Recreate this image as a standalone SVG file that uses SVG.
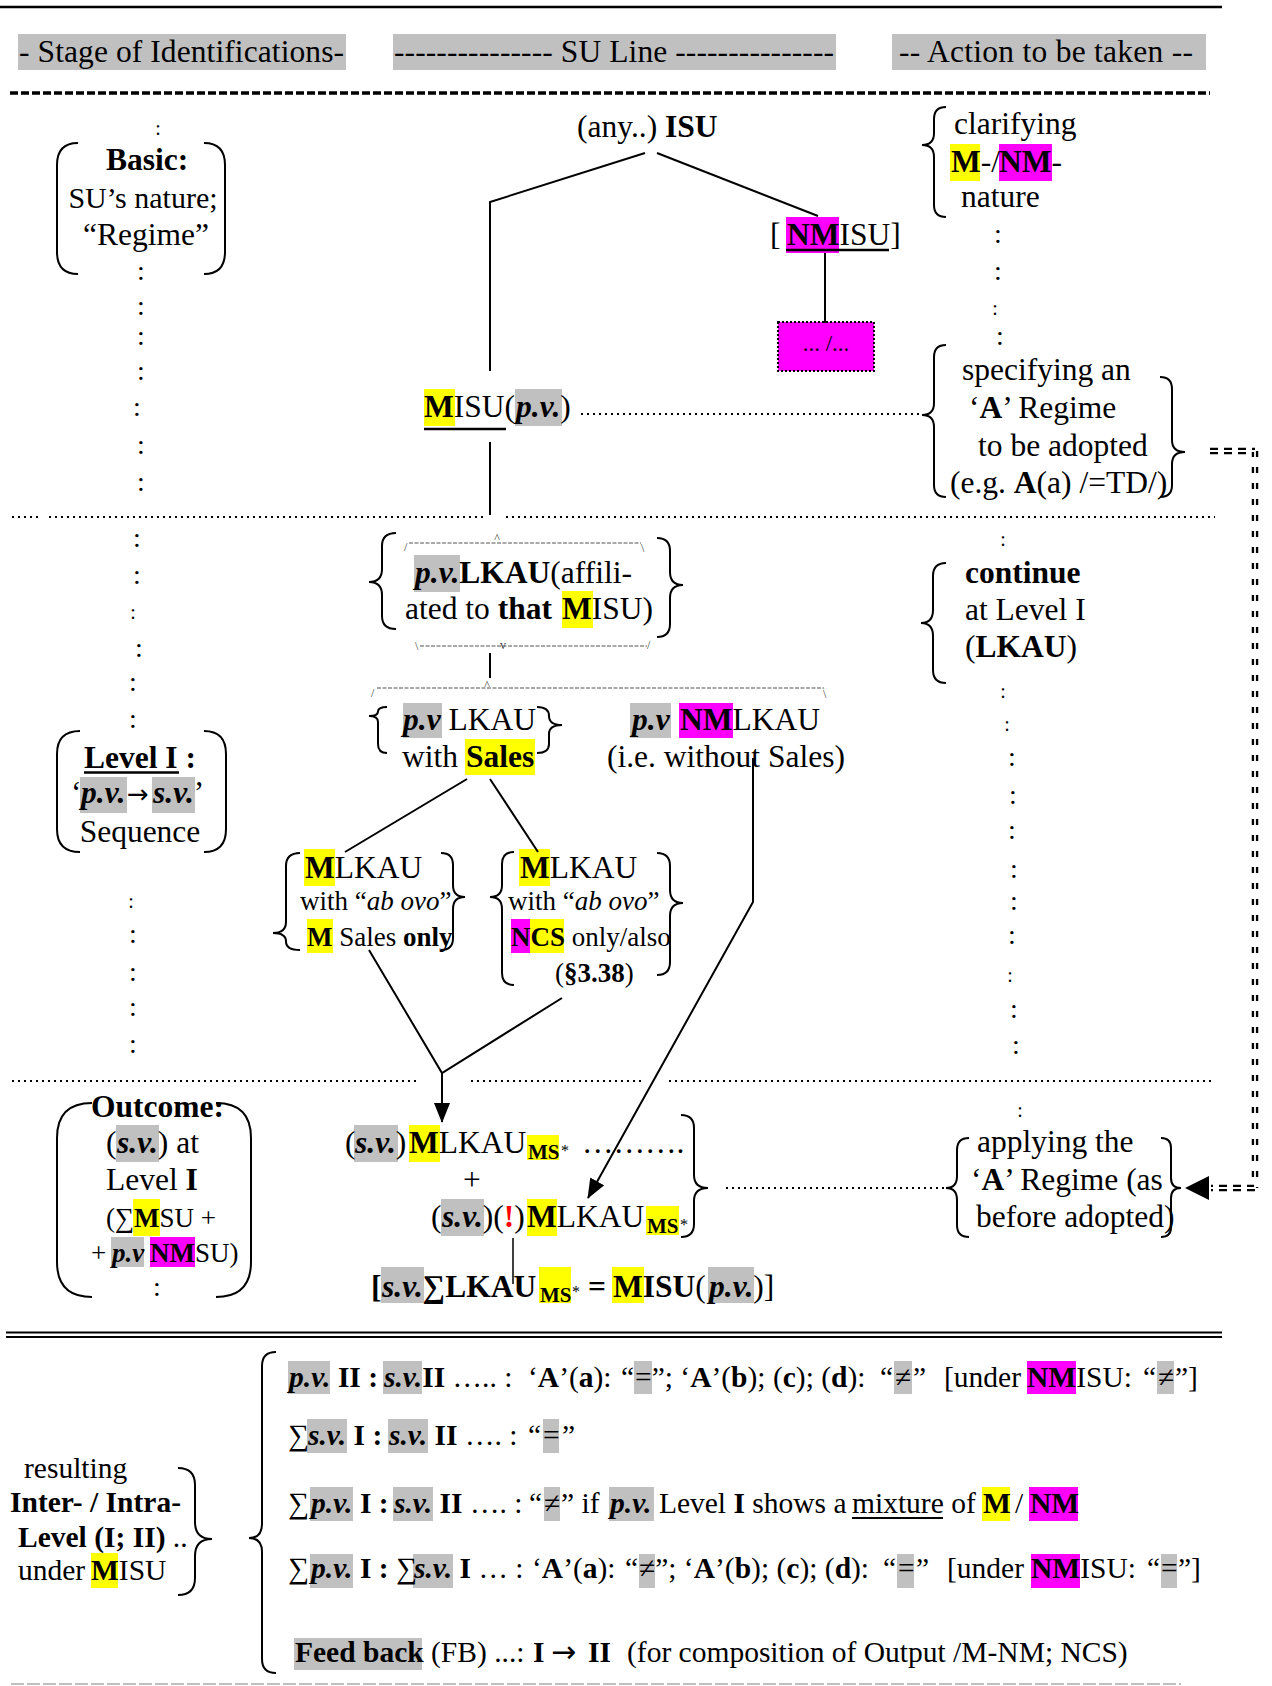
<svg xmlns="http://www.w3.org/2000/svg" width="1272" height="1686" viewBox="0 0 1272 1686">
<style>
text{font-family:"Liberation Serif","Times New Roman",serif;font-size:31.5px;fill:#000}
.s27{font-size:27px}
.s29{font-size:29.5px}
.b{font-weight:bold}
.i{font-style:italic}
.bi{font-weight:bold;font-style:italic}
.c{font-size:28px;text-anchor:middle}
.cs{font-size:20px;text-anchor:middle}
.hy{fill:#ffff00}
.hm{fill:#ff00ff}
.hg{fill:#c0c0c0}
.ln{fill:none;stroke:#000;stroke-width:2}
.br{fill:none;stroke:#000;stroke-width:2}
.dot{fill:none;stroke:#000;stroke-width:2;stroke-dasharray:2 4}
.fr{fill:none;stroke:#555;stroke-width:1;stroke-dasharray:4 1.5}
.sm{font-size:12px;fill:#444}
.red{fill:#ff0000}
.ul{stroke:#000;stroke-width:2.5}
.arr{font-family:"DejaVu Sans",sans-serif;font-size:26px;font-weight:normal;font-style:normal}
</style>
<defs>
<marker id="ah" viewBox="0 0 20 16" refX="19" refY="8" markerWidth="20" markerHeight="16" markerUnits="userSpaceOnUse" orient="auto"><path d="M0,0 L20,8 L0,16 z" fill="#000"/></marker>
</defs>

<g id="header">
<line x1="0" y1="7" x2="1222" y2="7" stroke="#000" stroke-width="2.5"/>
<rect class="hg" x="18" y="34" width="328" height="36"/>
<text x="19" y="62" textLength="325">- Stage of Identifications-</text>
<rect class="hg" x="393" y="34" width="443" height="36"/>
<text x="394" y="62" textLength="440">--------------- SU Line ---------------</text>
<rect class="hg" x="892" y="34" width="314" height="36"/>
<text x="899" y="62" textLength="294">-- Action to be taken --</text>
<line x1="10" y1="93" x2="1210" y2="93" stroke="#000" stroke-width="3.5" stroke-dasharray="8 3"/>
</g>

<g id="separators">
<path class="dot" d="M12,517 H41 M49,517 H484 M506,517 H1215"/>
<path class="dot" d="M12,1081 H418 M471,1081 H642 M669,1081 H1212"/>
<line x1="6" y1="1332.5" x2="1222" y2="1332.5" stroke="#000" stroke-width="2"/>
<line x1="6" y1="1337" x2="1222" y2="1337" stroke="#000" stroke-width="2"/>
<line x1="11" y1="1684" x2="1181" y2="1684" stroke="#aaa" stroke-width="1.5" stroke-dasharray="13 3"/>
</g>

<g id="dots-left">
<text class="cs" x="158" y="135">:</text>
<text class="c" x="141" y="280">:</text>
<text class="c" x="141" y="315">:</text>
<text class="c" x="141" y="345">:</text>
<text class="c" x="141" y="380">:</text>
<text class="c" x="137" y="416">:</text>
<text class="c" x="141" y="454">:</text>
<text class="c" x="141" y="491">:</text>
<text class="c" x="137" y="547">:</text>
<text class="c" x="137" y="584">:</text>
<text class="cs" x="133" y="619">:</text>
<text class="c" x="139" y="657">:</text>
<text class="c" x="133" y="691">:</text>
<text class="c" x="133" y="728">:</text>
<text class="cs" x="131" y="908">:</text>
<text class="c" x="133" y="943">:</text>
<text class="c" x="133" y="981">:</text>
<text class="c" x="133" y="1016">:</text>
<text class="c" x="133" y="1053">:</text>
</g>

<g id="dots-right">
<text class="c" x="998" y="243">:</text>
<text class="c" x="998" y="280">:</text>
<text class="cs" x="995" y="315">:</text>
<text class="c" x="1000" y="345">:</text>
<text class="cs" x="1003" y="546">:</text>
<text class="cs" x="1003" y="698">:</text>
<text class="cs" x="1007" y="731">:</text>
<text class="c" x="1012" y="766">:</text>
<text class="c" x="1013" y="804">:</text>
<text class="c" x="1012" y="839">:</text>
<text class="c" x="1014" y="878">:</text>
<text class="c" x="1014" y="910">:</text>
<text class="c" x="1012" y="944">:</text>
<text class="cs" x="1010" y="982">:</text>
<text class="c" x="1014" y="1018">:</text>
<text class="c" x="1016" y="1054">:</text>
<text class="cs" x="1020" y="1117">:</text>
</g>

<g id="stage-basic">
<path class="br" d="M78,143 Q57,143 57,165 L57,252 Q57,274 78,274"/>
<path class="br" d="M204,143 Q225,143 225,165 L225,252 Q225,274 204,274"/>
<text class="b" x="147" y="170" text-anchor="middle">Basic:</text>
<text x="143" y="208" text-anchor="middle" style="font-size:30px">SU’s nature;</text>
<text x="146" y="245" text-anchor="middle">“Regime”</text>
</g>

<g id="stage-level1">
<path class="br" d="M80,731 Q57,731 57,754 L57,829 Q57,852 80,852"/>
<path class="br" d="M204,731 Q226,731 226,754 L226,829 Q226,852 204,852"/>
<text class="b" x="84" y="768">Level I :</text>
<line class="ul" x1="84" y1="772.5" x2="179" y2="772.5"/>
<rect class="hg" x="80" y="777" width="47" height="36"/>
<rect class="hg" x="152" y="777" width="43" height="36"/>
<text x="71" y="803">‘<tspan class="bi" x="81">p.v.</tspan><tspan class="arr" x="127">→</tspan><tspan class="bi" x="153">s.v.</tspan>’</text>
<text x="140" y="842" text-anchor="middle">Sequence</text>
</g>

<g id="stage-outcome">
<path class="br" d="M92,1103 Q57,1103 57,1138 L57,1262 Q57,1297 92,1297"/>
<path class="br" d="M216,1103 Q251,1103 251,1138 L251,1262 Q251,1297 216,1297"/>
<text class="b" x="91" y="1117">Outcome:</text>
<rect class="hg" x="116" y="1125" width="43" height="37"/>
<text x="106" y="1153">(<tspan class="bi" x="117">s.v.</tspan>) at</text>
<text x="106" y="1190">Level <tspan class="b">I</tspan></text>
<rect class="hy" x="133" y="1199" width="27" height="37"/>
<text class="s27" x="106" y="1227">(∑<tspan class="b" x="134">M</tspan>SU +</text>
<rect class="hg" x="111" y="1237" width="33" height="30"/>
<rect class="hm" x="150" y="1237" width="45" height="30"/>
<text class="s27" x="91" y="1262">+ <tspan class="bi" x="112">p.v</tspan> <tspan class="b" x="150">NM</tspan>SU)</text>
<text class="c" x="157" y="1296">:</text>
</g>

<g id="isu">
<text x="577" y="137">(any..) <tspan class="b">ISU</tspan></text>
</g>

<g id="nmisu">
<rect class="hm" x="786" y="217" width="53" height="36"/>
<text x="770" y="245">[ <tspan class="b" x="787">NM</tspan>ISU]</text>
<line class="ul" x1="786" y1="250" x2="889" y2="250"/>
</g>

<g id="nm-sub">
<rect x="778" y="322" width="96" height="49" fill="#ff00ff" stroke="#000" stroke-width="2" stroke-dasharray="2 2"/>
<text x="826" y="351" text-anchor="middle" style="font-size:23px">... /...</text>
</g>

<g id="misu">
<rect class="hy" x="424" y="389" width="31" height="37"/>
<rect class="hg" x="515" y="389" width="47" height="37"/>
<text x="424" y="417"><tspan class="b">M</tspan>ISU(<tspan class="bi" x="516">p.v.</tspan>)</text>
<line class="ul" x1="424" y1="429" x2="506" y2="429"/>
</g>

<g id="act-clarify">
<path class="br" d="M946,107 Q934,107 934,119 L934,133 Q934,145 922,145 Q934,145 934,157 L934,205 Q934,217 946,217"/>
<text x="954" y="134">clarifying</text>
<rect class="hy" x="950" y="144" width="30" height="37"/>
<rect class="hm" x="999" y="144" width="53" height="37"/>
<text x="951" y="172"><tspan class="b">M</tspan>-/<tspan class="b" x="999">NM</tspan>-</text>
<text x="961" y="207">nature</text>
</g>

<g id="act-specify">
<path class="br" d="M946,345 Q934,345 934,357 L934,403 Q934,415 922,415 Q934,415 934,427 L934,485 Q934,497 946,497"/>
<path class="br" d="M1160,377 Q1172,377 1172,389 L1172,440 Q1172,452 1185,452 Q1172,452 1172,464 L1172,485 Q1172,497 1160,497"/>
<text x="962" y="380">specifying an</text>
<text x="969" y="418">‘<tspan class="b">A</tspan>’ Regime</text>
<text x="978" y="456">to be adopted</text>
<text x="950" y="493">(e.g. <tspan class="b">A</tspan>(a) /=TD/)</text>
</g>

<g id="lkau-affil">
<path class="fr" d="M409,543 H641"/>
<text class="sm" x="404" y="551">/</text>
<text class="sm" x="497" y="542" text-anchor="middle">^</text>
<text class="sm" x="641" y="552">\</text>
<path class="br" d="M396,533 Q382,533 382,546 L382,569 Q382,582 369,582 Q382,582 382,595 L382,616 Q382,629 396,629"/>
<path class="br" d="M657,538 Q670,538 670,551 L670,572 Q670,585 683,585 Q670,585 670,598 L670,624 Q670,637 657,637"/>
<rect class="hg" x="414" y="555" width="46" height="37"/>
<text x="415" y="583"><tspan class="bi">p.v.</tspan><tspan class="b">LKAU</tspan>(affili-</text>
<rect class="hy" x="562" y="591" width="31" height="37"/>
<text x="405" y="619">ated to <tspan class="b">that </tspan><tspan class="b" x="562">M</tspan>ISU)</text>
<path class="fr" d="M420,646 H647"/>
<text class="sm" x="415" y="650">\</text>
<text class="sm" x="503" y="649" text-anchor="middle">v</text>
<text class="sm" x="647" y="649">/</text>
</g>

<g id="lkau-split">
<path class="fr" d="M377,688 H824"/>
<text class="sm" x="371" y="697">/</text>
<text class="sm" x="487" y="689" text-anchor="middle">^</text>
<text class="sm" x="823" y="698">\</text>
</g>

<g id="lkau-sales">
<path class="br" d="M387,707 Q378,707 378,711.5 Q378,716 369,716 Q378,716 378,722 L378,744 Q378,753 387,753"/>
<path class="br" d="M537,707 Q549,707 549,716 Q549,725 562,725 Q549,725 549,734 L549,744 Q549,753 537,753"/>
<rect class="hg" x="403" y="703" width="39" height="35"/>
<text x="403" y="730"><tspan class="bi">p.v</tspan> LKAU</text>
<rect class="hy" x="465" y="739" width="70" height="36"/>
<text x="402" y="767">with <tspan class="b" x="466">Sales</tspan></text>
</g>

<g id="lkau-nm">
<rect class="hg" x="630" y="703" width="41" height="35"/>
<rect class="hm" x="679" y="703" width="54" height="35"/>
<text x="632" y="730"><tspan class="bi">p.v</tspan> <tspan class="b" x="680">NM</tspan>LKAU</text>
<text x="607" y="767">(i.e. without Sales)</text>
</g>

<g id="mlkau-m">
<path class="br" d="M300,853 Q286,853 286,866 L286,922 Q286,933 273,933 Q286,933 286,941.5 Q286,950 300,950"/>
<path class="br" d="M441,853 Q453,853 453,865 L453,885 Q453,897 465,897 Q453,897 453,909 L453,938 Q453,950 441,950"/>
<rect class="hy" x="304" y="849" width="31" height="37"/>
<text x="305" y="878"><tspan class="b">M</tspan>LKAU</text>
<text class="s27" x="300" y="910">with “<tspan class="i">ab ovo</tspan>”</text>
<rect class="hy" x="307" y="919" width="26" height="34"/>
<text class="s27" x="307" y="946"><tspan class="b">M</tspan> Sales <tspan class="b">only</tspan></text>
</g>

<g id="mlkau-ncs">
<path class="br" d="M514,852 Q502,852 502,864 L502,885 Q502,897 490,897 Q502,897 502,909 L502,973 Q502,985 514,985"/>
<path class="br" d="M657,853 Q670,853 670,866 L670,890 Q670,903 683,903 Q670,903 670,916 L670,962 Q670,975 657,975"/>
<rect class="hy" x="519" y="849" width="31" height="37"/>
<text x="520" y="878"><tspan class="b">M</tspan>LKAU</text>
<text class="s27" x="508" y="910">with “<tspan class="i">ab ovo</tspan>”</text>
<rect class="hm" x="511" y="919" width="19" height="34"/>
<rect class="hy" x="530" y="919" width="34" height="34"/>
<text class="s27" x="511" y="946"><tspan class="b">NCS</tspan> only/also</text>
<text class="s27" x="555" y="982">(<tspan class="b">§3.38</tspan>)</text>
</g>

<g id="act-continue">
<path class="br" d="M946,563 Q933,563 933,576 L933,610 Q933,623 921,623 Q933,623 933,636 L933,670 Q933,683 946,683"/>
<text class="b" x="965" y="583">continue</text>
<text x="965" y="620">at Level I</text>
<text x="965" y="657">(<tspan class="b">LKAU</tspan>)</text>
</g>

<g id="out-ms">
<rect class="hg" x="354" y="1125" width="44" height="37"/>
<rect class="hy" x="409" y="1125" width="31" height="37"/>
<rect class="hy" x="527" y="1135" width="32" height="25"/>
<text x="345" y="1153">(<tspan class="bi" x="355">s.v.</tspan>)<tspan class="b" x="409">M</tspan>LKAU<tspan class="b" x="528" y="1159" style="font-size:21px">MS</tspan><tspan x="561" y="1156" style="font-size:16px">*</tspan><tspan x="582" y="1153">……….</tspan></text>
<text x="472" y="1190" text-anchor="middle">+</text>
<rect class="hg" x="441" y="1199" width="43" height="37"/>
<rect class="hy" x="527" y="1199" width="30" height="37"/>
<rect class="hy" x="646" y="1206" width="33" height="29"/>
<text x="431" y="1227">(<tspan class="bi" x="442">s.v.</tspan>)(<tspan class="b red">!</tspan>)<tspan class="b" x="527">M</tspan>LKAU<tspan class="b" x="647" y="1233" style="font-size:21px">MS</tspan><tspan x="680" y="1230" style="font-size:16px">*</tspan></text>
<path class="br" d="M681,1115 Q694,1115 694,1128 L694,1175 Q694,1188 708,1188 Q694,1188 694,1201 L694,1224 Q694,1237 681,1237"/>
</g>

<g id="out-sum">
<rect class="hg" x="381" y="1267" width="43" height="36"/>
<rect class="hy" x="539" y="1267" width="32" height="36"/>
<rect class="hy" x="612" y="1267" width="32" height="36"/>
<rect class="hg" x="708" y="1267" width="46" height="36"/>
<text class="b" x="371" y="1297">[<tspan class="bi" x="382">s.v.</tspan>∑LKAU<tspan x="540" y="1302" style="font-size:21px">MS</tspan><tspan x="572" y="1297" style="font-size:16px;font-weight:normal">*</tspan><tspan x="580" y="1297"> = </tspan><tspan x="613">M</tspan>ISU<tspan style="font-weight:normal">(</tspan><tspan class="bi" x="709">p.v.</tspan><tspan style="font-weight:normal">)]</tspan></text>
</g>

<g id="act-apply">
<path class="br" d="M969,1138 Q957,1138 957,1150 L957,1176 Q957,1188 946,1188 Q957,1188 957,1200 L957,1225 Q957,1237 969,1237"/>
<path class="br" d="M1161,1138 Q1171,1138 1171,1148 L1171,1178 Q1171,1188 1181,1188 Q1171,1188 1171,1198 L1171,1227 Q1171,1237 1161,1237"/>
<text x="977" y="1152">applying the</text>
<text x="971" y="1190">‘<tspan class="b">A</tspan>’ Regime (as</text>
<text x="976" y="1227">before adopted)</text>
</g>

<g id="resulting">
<text class="s29" x="24" y="1478">resulting</text>
<text class="s29 b" x="10" y="1512">Inter- / Intra-</text>
<text class="s29" x="18" y="1547"><tspan class="b">Level (I; II)</tspan> ..</text>
<rect class="hy" x="91" y="1553" width="27" height="35"/>
<text class="s29" x="18" y="1580">under <tspan class="b" x="91">M</tspan>ISU</text>
<path class="br" d="M178,1468 Q195,1468 195,1485 L195,1522 Q195,1539 212,1539 Q195,1539 195,1556 L195,1578 Q195,1595 178,1595"/>
</g>

<g id="rules">
<path class="br" d="M276,1352 Q262,1352 262,1366 L262,1524 Q262,1538 249,1538 Q262,1538 262,1552 L262,1659 Q262,1673 276,1673"/>
<rect class="hg" x="288" y="1361" width="42" height="33"/>
<rect class="hg" x="383" y="1361" width="39" height="33"/>
<rect class="hg" x="634" y="1361" width="18" height="33"/>
<rect class="hg" x="894" y="1361" width="18" height="33"/>
<rect class="hm" x="1027" y="1361" width="49" height="33"/>
<rect class="hg" x="1157" y="1361" width="17" height="33"/>
<text class="s29" x="289" y="1387"><tspan class="bi">p.v.</tspan><tspan class="b"> II : </tspan><tspan class="bi" x="384">s.v.</tspan><tspan class="b">II</tspan> ….. : <tspan x="528">‘</tspan><tspan class="b">A</tspan>’(<tspan class="b">a</tspan>): <tspan x="621">“</tspan><tspan x="635">=</tspan>”; ‘<tspan class="b">A</tspan>’(<tspan class="b">b</tspan>); (<tspan class="b">c</tspan>); (<tspan class="b">d</tspan>): <tspan x="880">“</tspan><tspan x="895">≠</tspan><tspan x="913">”</tspan><tspan x="944">[under </tspan><tspan class="b" x="1027">NM</tspan>ISU: <tspan x="1143">“</tspan><tspan x="1158">≠</tspan><tspan x="1175">”]</tspan></text>

<rect class="hg" x="307" y="1419" width="40" height="34"/>
<rect class="hg" x="388" y="1419" width="40" height="34"/>
<rect class="hg" x="543" y="1419" width="16" height="34"/>
<text class="s29" x="288" y="1445">∑<tspan class="bi" x="308">s.v.</tspan><tspan class="b"> I : </tspan><tspan class="bi" x="389">s.v.</tspan><tspan class="b"> II</tspan> …. : <tspan x="528">“</tspan><tspan x="543">=</tspan><tspan x="562">”</tspan></text>

<rect class="hg" x="310" y="1487" width="43" height="34"/>
<rect class="hg" x="393" y="1487" width="40" height="34"/>
<rect class="hg" x="544" y="1487" width="16" height="34"/>
<rect class="hg" x="609" y="1487" width="45" height="34"/>
<rect class="hy" x="982" y="1487" width="28" height="34"/>
<rect class="hm" x="1029" y="1487" width="49" height="34"/>
<text class="s29" x="288" y="1513">∑<tspan class="bi" x="311">p.v.</tspan><tspan class="b"> I : </tspan><tspan class="bi" x="394">s.v.</tspan><tspan class="b"> II</tspan> …. : <tspan x="529">“</tspan><tspan x="544">≠</tspan><tspan x="561">” if </tspan><tspan class="bi" x="610">p.v.</tspan> Level <tspan class="b">I</tspan> shows a <tspan x="852">mixture</tspan> of <tspan class="b" x="983">M</tspan><tspan x="1015">/</tspan><tspan class="b" x="1030">NM</tspan></text>
<line x1="852" y1="1518" x2="943" y2="1518" stroke="#000" stroke-width="2"/>

<rect class="hg" x="310" y="1554" width="43" height="34"/>
<rect class="hg" x="413" y="1554" width="40" height="34"/>
<rect class="hg" x="639" y="1554" width="16" height="34"/>
<rect class="hg" x="897" y="1554" width="17" height="34"/>
<rect class="hm" x="1031" y="1554" width="49" height="34"/>
<rect class="hg" x="1161" y="1554" width="16" height="34"/>
<text class="s29" x="288" y="1578">∑<tspan class="bi" x="311">p.v.</tspan><tspan class="b"> I : </tspan>∑<tspan class="bi" x="414">s.v.</tspan><tspan class="b"> I</tspan> … : <tspan x="532">‘</tspan><tspan class="b">A</tspan>’(<tspan class="b">a</tspan>): <tspan x="625">“</tspan><tspan x="639">≠</tspan>”; ‘<tspan class="b">A</tspan>’(<tspan class="b">b</tspan>); (<tspan class="b">c</tspan>); (<tspan class="b">d</tspan>): <tspan x="883">“</tspan><tspan x="898">=</tspan><tspan x="916">”</tspan><tspan x="947">[under </tspan><tspan class="b" x="1031">NM</tspan>ISU: <tspan x="1147">“</tspan><tspan x="1161">=</tspan><tspan x="1178">”]</tspan></text>

<rect class="hg" x="294" y="1638" width="128" height="32"/>
<text class="s29" x="295" y="1662"><tspan class="b">Feed back</tspan> (FB) ...: <tspan class="b" x="533">I</tspan><tspan class="arr" x="551" style="font-size:30px">→</tspan><tspan class="b" x="588">II</tspan> <tspan x="627">(for composition of Output /M-NM; NCS)</tspan></text>
</g>

<g id="connectors">
<polyline class="ln" points="645,153 490,202 490,371"/>
<line class="ln" x1="657" y1="153" x2="818" y2="216"/>
<line class="ln" x1="825" y1="253" x2="825" y2="323"/>
<line class="ln" x1="490" y1="442" x2="490" y2="515"/>
<path class="dot" d="M581,414 H922"/>
<line class="ln" x1="490" y1="653" x2="490" y2="678"/>
<line class="ln" x1="467" y1="779" x2="345" y2="852"/>
<line class="ln" x1="490" y1="779" x2="538" y2="852"/>
<polyline class="ln" points="753,758 753,902 588,1198" marker-end="url(#ah)"/>
<polyline class="ln" points="369,950 442,1073 562,998"/>
<line class="ln" x1="442" y1="1073" x2="442" y2="1122" marker-end="url(#ah)"/>
<path class="dot" d="M726,1188 H944"/>
<line x1="513" y1="1238" x2="513" y2="1284" stroke="#000" stroke-width="1.5"/>
<path d="M1210,451 H1255" fill="none" stroke="#000" stroke-width="6.5" stroke-dasharray="8 6"/>
<path d="M1255,451 V1188" fill="none" stroke="#000" stroke-width="6.5" stroke-dasharray="6 10"/>
<path d="M1255,1188 H1211" fill="none" stroke="#000" stroke-width="6.5" stroke-dasharray="8 6"/>
<path d="M1210,451 H1255 V1188 H1209" fill="none" stroke="#fff" stroke-width="1.8"/>
<polygon points="1185,1188 1209,1176 1209,1200" fill="#000"/>
</g>
</svg>
